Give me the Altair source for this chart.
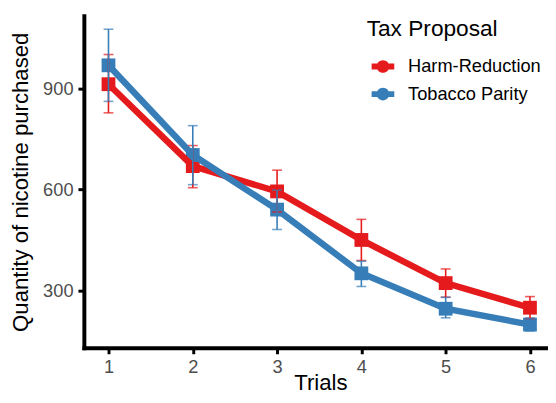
import altair as alt
import pandas as pd

trials = [1, 2, 3, 4, 5, 6]
groups = ["Harm-Reduction", "Tobacco Parity"]
harm_mean = [912, 669, 594, 450, 322, 249]
harm_lo = [827, 605, 533, 389, 280, 217]
harm_hi = [1000, 730, 657, 511, 364, 282]
parity_mean = [968, 702, 540, 351, 246, 199]
parity_lo = [861, 614, 481, 312, 219, 180]
parity_hi = [1075, 789, 598, 387, 280, 218]
colors = ["#E41A1C", "#377EB8"]
y_ticks = [300, 600, 900]

rows = []
for g, m, lo, hi in [(groups[0], harm_mean, harm_lo, harm_hi),
                     (groups[1], parity_mean, parity_lo, parity_hi)]:
    for t, a, b, c in zip(trials, m, lo, hi):
        rows.append({"trial": t, "group": g, "mean": a, "lo": b, "hi": c})
df = pd.DataFrame(rows)

FONT = "Liberation Sans"
LEGEND_PATH = ("M-1,-0.26L1,-0.26L1,0.26L-1,0.26Z "
               "M-0.56,0A0.56,0.56 0 1,1 0.56,0A0.56,0.56 0 1,1 -0.56,0Z")

xscale = alt.Scale(domain=[0.708, 6.214], nice=False, zero=False)
yscale = alt.Scale(domain=[130, 1115], nice=False, zero=False)
cscale = alt.Scale(domain=groups, range=colors)

legend = alt.Legend(title="Tax Proposal", symbolType=LEGEND_PATH,
                    symbolSize=529, symbolStrokeWidth=0)
c_enc = alt.Color("group:N", scale=cscale, legend=legend)

x_enc = alt.X("trial:Q", scale=xscale,
              axis=alt.Axis(values=trials, format="d", title="Trials",
                            titleX=240, titleY=42, titleBaseline="alphabetic"))
y_enc = alt.Y("mean:Q", scale=yscale,
              axis=alt.Axis(values=y_ticks, title="Quantity of nicotine purchased",
                            titleX=-57, titleBaseline="alphabetic"))

base = alt.Chart(df)

points = base.mark_point(shape="square", filled=True, size=196, opacity=1).encode(
    x=x_enc, y=y_enc, color=c_enc,
)

lines = base.mark_line(strokeWidth=6.5).encode(
    x=x_enc, y=y_enc, color=c_enc,
)

errs = base.mark_errorbar(ticks=True, size=10, thickness=1.6).encode(
    x=x_enc,
    y=alt.Y("lo:Q", scale=yscale, title="Quantity of nicotine purchased"),
    y2="hi:Q",
    color=c_enc,
)

chart = alt.layer(points, lines, errs).properties(
    width=471, height=337,
    autosize=alt.AutoSizeParams(type="none"),
    padding={"left": 77, "top": 5, "right": 0, "bottom": 45},
).configure_view(stroke=None).configure_axis(
    grid=False,
    domainColor="black", domainWidth=4, domainCap="square",
    tickColor="black", tickWidth=3, tickSize=6,
    labelFont=FONT, labelFontSize=18.5, labelColor="#4D4D4D",
    titleFont=FONT, titleFontSize=22.5, titleColor="black", titleFontWeight="normal",
).configure_axisX(labelPadding=4).configure_axisY(labelPadding=5).configure_legend(
    orient="none", legendX=287, legendY=3, padding=0,
    titleFont=FONT, titleFontSize=23, titleFontWeight="normal", titleColor="black",
    titlePadding=14,
    labelFont=FONT, labelFontSize=18.5, labelColor="black", labelOffset=14,
    symbolOffset=5, rowPadding=7,
)

chart.save("out.html", embed_options={"renderer": "svg", "actions": False})
